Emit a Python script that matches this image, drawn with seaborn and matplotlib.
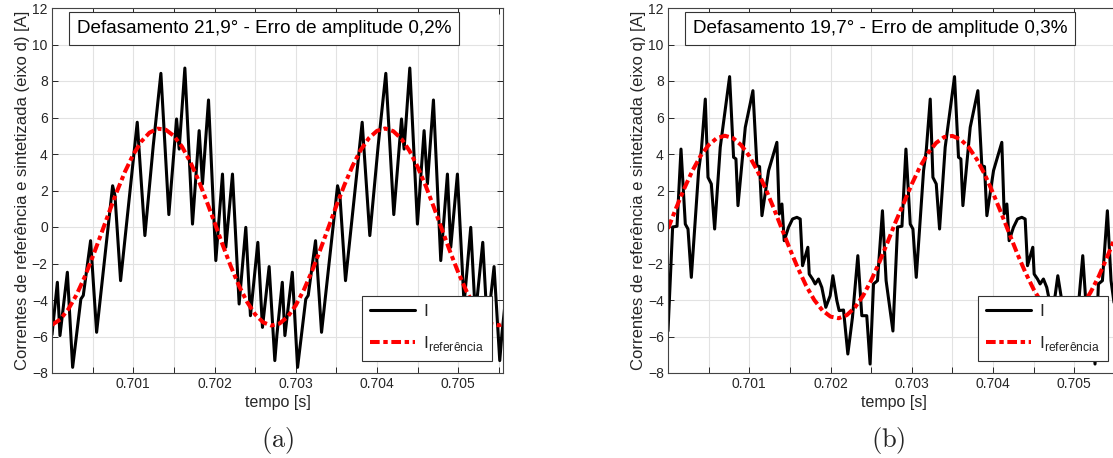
import numpy as np
import pandas as pd
import seaborn as sns
import matplotlib.pyplot as plt
from matplotlib.ticker import FuncFormatter

# tempo em microssegundos a partir de 0.7 s
t0 = 0.7
periodo_us = 2768

# corrente sintetizada, eixo d (um periodo)
d_us = [0, 66, 98, 189, 254, 355, 385, 475, 549, 746, 775, 844, 1049, 1143,
        1246, 1340, 1438, 1533, 1565, 1635, 1729, 1811, 1852, 1926, 2016,
        2098, 2139, 2221, 2303, 2385, 2442, 2533, 2590, 2672, 2742]
d_val = [-5.9, -3.03, -5.95, -2.48, -7.69, -3.95, -3.75, -0.75, -5.77, 2.26,
         1.72, -2.94, 5.74, -0.47, 4.46, 8.42, 0.68, 5.92, 4.27, 8.71, 0.16,
         5.28, 2.36, 6.96, -1.84, 2.90, -1.11, 2.90, -4.22, -0.02, -4.86,
         -0.84, -5.50, -2.17, -7.32]

# corrente sintetizada, eixo q (um periodo)
q_us = [0, 57, 111, 160, 213, 246, 287, 377, 410, 459, 492, 533, 574, 643,
        758, 807, 836, 861, 951, 1045, 1094, 1127, 1156, 1238, 1340, 1369,
        1402, 1430, 1483, 1533, 1586, 1627, 1656, 1721, 1738, 1779, 1811,
        1852, 1893, 1942, 1996, 2029, 2078, 2106, 2160, 2213, 2270, 2336,
        2385, 2446, 2487, 2529, 2578, 2639, 2684]
q_val = [-5.7, 0.0, 0.04, 4.27, 0.16, -0.11, -2.76, 3.09, 4.18, 7.01, 2.72,
         2.36, -0.11, 4.37, 8.24, 3.82, 3.73, 1.17, 5.46, 7.47, 3.36, 3.31,
         0.62, 3.09, 4.64, 0.71, 1.26, -0.75, -0.02, 0.44, 0.53, 0.44, -2.12,
         -1.11, -2.58, -2.85, -3.12, -2.85, -3.31, -4.40, -3.76, -2.67, -4.04,
         -4.58, -4.55, -6.96, -4.95, -1.57, -4.86, -4.86, -7.51, -3.12, -2.94,
         0.89, -2.94]

# correntes de referencia, a cada 100 us
ref_us = list(range(0, 5601, 100))
ref_d = [-5.36, -5.07, -4.51, -3.73, -2.76, -1.64, -0.44, 0.78, 1.96, 3.05,
         3.97, 4.69, 5.17, 5.39, 5.33, 4.99, 4.40, 3.58, 2.59, 1.45,
         0.25, -0.98, -2.15, -3.21, -4.10, -4.79, -5.23, -5.40,
         -5.29, -4.92, -4.29, -3.44, -2.41, -1.26, -0.05, 1.17, 2.32, 3.36,
         4.23, 4.87, 5.27, 5.40, 5.25, 4.83, 4.17, 3.29, 2.24, 1.07,
         -0.15, -1.36, -2.50, -3.51, -4.34, -4.96, -5.31, -5.39, -5.20]
ref_q = [-0.09, 1.04, 2.11, 3.08, 3.89, 4.49, 4.87, 5.00, 4.87, 4.49,
         3.89, 3.08, 2.11, 1.04, -0.09, -1.21, -2.27, -3.22, -4.00, -4.57,
         -4.91, -5.00, -4.83, -4.41, -3.77, -2.93, -1.94, -0.86,
         0.27, 1.30, 2.35, 3.29, 4.05, 4.61, 4.93, 4.99, 4.80, 4.37,
         3.71, 2.86, 1.86, 0.77, -0.36, -1.48, -2.51, -3.42, -4.16, -4.67,
         -4.95, -4.98, -4.75, -4.28, -3.58, -2.71, -1.69, -0.59, 0.54]

titulos = ['Defasamento 21,9° - Erro de amplitude 0,2%',
           'Defasamento 19,7° - Erro de amplitude 0,3%']
ylabels = ['Correntes de referência e sintetizada (eixo d) [A]',
           'Correntes de referência e sintetizada (eixo q) [A]']
letras = ['(a)', '(b)']


def serie(us, val, n=3):
    # o sinal se repete a cada periodo
    t = np.concatenate([np.array(us) + k * periodo_us for k in range(n)])
    v = np.tile(val, n)
    return pd.DataFrame({'t': t0 + t * 1e-6, 'i': v})


sns.set_theme(style='ticks')
plt.rcParams['font.family'] = ['Liberation Sans', 'DejaVu Sans']
plt.rcParams['mathtext.fontset'] = 'custom'
plt.rcParams['mathtext.rm'] = 'Liberation Sans'

fig = plt.figure(figsize=(11.13, 4.58), dpi=100)
ax_1 = fig.add_axes([52 / 1113, 85 / 458, 451 / 1113, 365 / 458])
ax_2 = fig.add_axes([668 / 1113, 85 / 458, 451 / 1113, 365 / 458])

dados = [(serie(d_us, d_val), ref_d), (serie(q_us, q_val), ref_q)]
cinza = '#262626'
centros = [278, 888]

for ax, (df, ref), ttl, ylab, letra, cx in zip([ax_1, ax_2], dados, titulos,
                                               ylabels, letras, centros):
    df_ref = pd.DataFrame({'t': t0 + np.array(ref_us) * 1e-6, 'i': ref})

    sns.lineplot(data=df, x='t', y='i', ax=ax, color='black', lw=2.2,
                 sort=False, estimator=None, label='I')
    sns.lineplot(data=df_ref, x='t', y='i', ax=ax, color='red', lw=2.9,
                 sort=False, estimator=None, linestyle=(0, (2.4, 0.9, 1.1, 0.9)),
                 label='I$_{\\mathregular{referência}}$')

    # format
    ax.set_xlim(0.7, 0.70555)
    ax.set_ylim(-8, 12)
    ax.set_xticks(np.arange(0.7005, 0.7056, 0.0005))
    ax.xaxis.set_major_formatter(FuncFormatter(
        lambda x, p: f'{x:.3f}' if round(x * 1e4) % 10 == 0 else ''))
    ax.set_yticks(range(-8, 13, 2))
    ax.grid(True, color='#e2e2e2', lw=0.8)
    ax.tick_params(direction='in', length=4, width=0.7, top=True, right=True,
                   labelsize=10, colors=cinza, pad=3)
    for sp in ax.spines.values():
        sp.set_color('#444444')
        sp.set_linewidth(0.8)
    ax.set_xlabel('tempo [s]', fontsize=11.5, color=cinza, labelpad=3)
    ax.set_ylabel(ylab, fontsize=12, color=cinza, labelpad=1)

    ax.text(0.055, 0.945, ttl, transform=ax.transAxes, fontsize=13.6, va='center',
            ha='left', color='black',
            bbox=dict(boxstyle='square,pad=0.42', fc='white', ec='#333333', lw=0.8))

    leg = ax.legend(loc='lower right', bbox_to_anchor=(0.976, 0.033), borderaxespad=0,
                    fontsize=12.5, handlelength=2.6, handletextpad=0.5, fancybox=False,
                    framealpha=1, edgecolor='#333333', labelspacing=0.85, borderpad=0.45)
    leg.get_frame().set_linewidth(0.8)

    fig.text(cx / 1113, 1 - 440 / 458, '$\\mathrm{' + letra + '}$', ha='center',
             va='center', fontsize=19, math_fontfamily='cm')

fig.savefig('out.png', dpi=100)
